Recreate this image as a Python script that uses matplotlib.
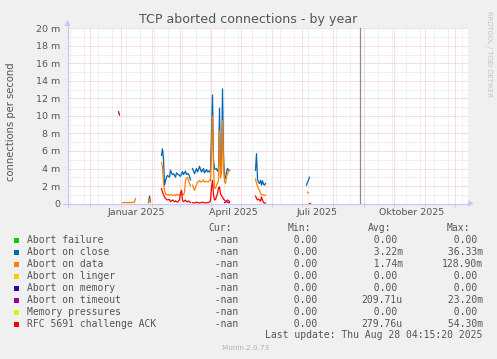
import matplotlib

matplotlib.use("Agg")
import matplotlib.dates as mdates
import matplotlib.pyplot as plt
import numpy as np
from matplotlib.lines import Line2D
from matplotlib.patches import Polygon, Rectangle

W, H = 497, 359

# values in milli connections per second, one value per day from the start date
timeout_a_start, timeout_a = "2024-12-30", [10.5, 10.1]
data_a_start, data_a = "2025-01-03", [0.1, 0.1, 0.1, 0.12, 0.1, 0.1, 0.1, 0.12,
                                      0.1, 0.1, 0.15, 0.1, 0.2, 0.55]
close_b_start, close_b = "2025-01-29", [0.1, 0.85, 0.2]
data_b_start, data_b = "2025-01-29", [0.1, 0.55, 0.15]

main_start = "2025-02-11"
close_main = [5.5, 6.25, 5.1, 2.1, 2.6, 3.0, 3.2, 3.1, 3.0, 3.8, 3.5, 3.3, 3.4,
              3.2, 3.0, 3.5, 3.4, 3.3, 3.2, 3.1, 3.4, 3.65, 3.3, 3.5, 3.7, 3.3,
              3.4, 3.4, 3.1, 2.7, np.nan, 4.0, 3.7, 3.4, 3.7, 4.0, 3.6, 3.9,
              4.25, 3.9, 3.6, 3.8, 4.0, 3.5, 3.7, 3.9, 3.6, 3.7, 3.6, 3.9, 8.0,
              12.4, 5.0, 4.0, 3.9, 4.0, 3.7, 3.8, 10.9, 4.1, 4.0, 13.1, 5.5,
              3.0, 2.85, 3.6, 4.0, 3.8, 3.8]
data_main = [4.7, 4.2, 2.3, 1.5, 1.1, 1.0, 1.0, 1.0, 0.95, 1.0, 1.0, 0.95,
             0.95, 1.0, 0.9, 1.05, 1.0, 0.95, 1.0, 1.0, 1.15, 1.0, 1.0, 1.3,
             2.6, 2.9, 3.0, 2.6, 2.3, 2.0, np.nan, 2.1, 1.8, 1.5, 1.9, 2.1,
             2.45, 2.5, 2.65, 2.5, 2.45, 2.6, 2.7, 2.45, 2.5, 2.55, 2.45, 2.5,
             2.65, 2.6, 6.0, 10.0, 4.0, 1.8, 1.7, 2.1, 2.3, 2.6, 8.3, 2.9, 3.5,
             9.5, 4.5, 2.5, 2.3, 3.1, 3.4, 3.6, 3.8]
rfc_main = [1.7, 1.3, 1.0, 0.75, 0.55, 0.5, 0.4, 0.45, 0.45, 0.2, 0.3, 0.4,
            0.3, 0.2, 0.3, 0.2, 0.15, 0.3, 0.4, 1.2, 1.5, 0.4, 0.2, 0.3, 0.4,
            0.2, 0.2, 0.3, 0.2, 0.1, np.nan, 0.1, 0.1, 0.05, 0.1, 0.15, 0.1,
            0.1, 0.05, 0.1, 0.1, 0.15, 0.1, 0.1, 0.05, 0.1, 0.1, 0.1, 0.15,
            0.3, 1.8, 2.65, 1.0, 0.4, 0.45, 0.8, 1.1, 1.8, 1.9, 1.1, 0.9, 0.75,
            0.5, 0.4, 0.25, 0.3, 0.4, 0.3, 0.25]
timeout_b_start, timeout_b = "2025-04-15", [0.1, 0.15, 0.2, 0.15, 0.1, 0.1]

may_start = "2025-05-16"
close_may = [3.8, 5.7, 2.8, 2.4, 2.3, 2.65, 2.1, 2.6, 2.2, 2.1, 2.3]
data_may = [2.8, 2.3, 2.0, 1.7, 1.5, 1.15, 1.0, 1.0, 0.95, 0.95, 0.95]
rfc_may = [0.85, 0.6, 0.4, 0.5, 0.4, 0.25, 0.75, 0.4, 0.1, 0.05, 0.05]

close_jul_start, close_jul = "2025-07-06", [2.1, 2.4, 2.7, 3.0]
data_jul_start, data_jul = "2025-07-07", [1.3, 1.2]
rfc_jul_start, rfc_jul = "2025-07-08", [0.1, 0.1]

last_update = "2025-08-28"
x_start, x_days = "2024-11-09", 400

labels = ["Abort failure", "Abort on close", "Abort on data", "Abort on linger",
          "Abort on memory", "Abort on timeout", "Memory pressures",
          "RFC 5691 challenge ACK"]
colors = ["#00CC00", "#0066B3", "#FF8000", "#FFCC00", "#330099", "#990099",
          "#CCFF00", "#FF0000"]
cur_vals = ["-nan"] * 8
min_vals = ["0.00"] * 8
avg_vals = ["0.00", "3.22m", "1.74m", "0.00", "0.00", "209.71u", "0.00", "279.76u"]
max_vals = ["0.00", "36.33m", "128.90m", "0.00", "0.00", "23.20m", "0.00", "54.30m"]

y_ticks = list(range(0, 21, 2))
y_labels = ["0"] + [f"{v} m" for v in y_ticks[1:]]
x_label_dates = ["2025-01-17", "2025-04-24", "2025-07-17", "2025-10-19"]
x_label_text = ["Januar 2025", "April 2025", "Juli 2025", "Oktober 2025"]


def days(start, vals):
    return np.datetime64(start) + np.arange(len(vals)).astype("timedelta64[D]")


def fx(x):
    return x / W


def fy(y):
    return 1 - y / H


fig = plt.figure(figsize=(W / 100, H / 100), dpi=100, facecolor="#F0F0F0")
ax = fig.add_axes([fx(67.5), fy(203.5), 400 / W, 175 / H])
ax.set_facecolor("white")
for s in ax.spines.values():
    s.set_visible(False)

x0 = np.datetime64(x_start)
x1 = x0 + np.timedelta64(x_days, "D")
ax.set_xlim(x0, x1)
ax.set_ylim(0, 20)

# grid: minor every 1 m / two weeks, major every 2 m / month
dot = (0, (1, 1))
minor_c, major_c = "#E2E2E2", "#F2BDBD"
for v in range(1, 20, 2):
    ax.axhline(v, color=minor_c, lw=0.72, ls=dot, zorder=1)
for d in np.arange(np.datetime64("2024-11-11"), x1, np.timedelta64(14, "D")):
    ax.axvline(d, color=minor_c, lw=0.72, ls=dot, zorder=1)
for v in range(2, 21, 2):
    ax.axhline(v, color=major_c, lw=0.72, ls=dot, zorder=2)
months = np.arange(np.datetime64("2024-12"), np.datetime64("2026-01"),
                   np.timedelta64(1, "M")).astype("datetime64[D]")
for d in months:
    ax.axvline(d, color=major_c, lw=0.72, ls=dot, zorder=2)
ax.axvline(np.datetime64(last_update), color="#8C8C8C", lw=0.9, zorder=3)

series = [
    (1, close_b_start, close_b), (1, main_start, close_main), (1, may_start, close_may),
    (1, close_jul_start, close_jul),
    (2, data_a_start, data_a), (2, data_b_start, data_b), (2, main_start, data_main),
    (2, may_start, data_may), (2, data_jul_start, data_jul),
    (5, timeout_a_start, timeout_a), (5, timeout_b_start, timeout_b),
    (7, main_start, rfc_main), (7, may_start, rfc_may), (7, rfc_jul_start, rfc_jul),
]
for idx, start, vals in series:
    ax.plot(days(start, vals), vals, color=colors[idx], lw=0.9, zorder=4)

ax.set_yticks(y_ticks)
ax.set_yticklabels(y_labels)
ax.set_xticks([np.datetime64(d) for d in x_label_dates])
ax.set_xticklabels(x_label_text)
ax.xaxis.set_minor_locator(mdates.MonthLocator())
ax.tick_params(axis="both", length=0, labelsize=6.8, labelcolor="#555555")
ax.tick_params(axis="y", pad=5.2)
ax.tick_params(axis="x", pad=3.2)
ax.tick_params(axis="x", which="minor", length=2, color="#C8C8C8", direction="out")

# axes with arrows
axc = "#C8C8F4"
fig.add_artist(Line2D([fx(63), fx(469)], [fy(203.5), fy(203.5)], color=axc, lw=0.9))
fig.add_artist(Line2D([fx(67.5), fx(67.5)], [fy(207), fy(24)], color=axc, lw=0.9))
fig.add_artist(Polygon([[fx(468), fy(200.5)], [fx(474), fy(203.5)], [fx(468), fy(206.5)]],
                       closed=True, color=axc, lw=0))
fig.add_artist(Polygon([[fx(64.5), fy(26)], [fx(67.5), fy(20)], [fx(70.5), fy(26)]],
                       closed=True, color=axc, lw=0))

fig.text(fx(248.5), fy(19.5), "TCP aborted connections - by year", ha="center",
         va="center", size=9.1, color="#555555")
fig.text(fx(11), fy(122), "connections per second", rotation=90, ha="center",
         va="center", size=7.2, color="#555555")
fig.text(fx(489), fy(54), "RRDTOOL / TOBI OETIKER", rotation=270, ha="center",
         va="center", size=4.9, color="#C4C4C4")

mono = dict(family="DejaVu Sans Mono", size=7, color="#555555", va="center", ha="left")
for x, t in [(208, "Cur:"), (288, "Min:"), (368, "Avg:"), (447, "Max:")]:
    fig.text(fx(x), fy(227.7), t, **mono)


def fmt(s):
    if s[-1] in "mu":
        return f"{s[:-1]:>6}{s[-1]}"
    return f"{s:>6} "


for i, lab in enumerate(labels):
    y = 240 + 12 * i
    fig.add_artist(Rectangle((fx(14), fy(y + 2.5)), 5 / W, 5 / H, color=colors[i], lw=0))
    fig.text(fx(26.7), fy(y), lab, **mono)
    fig.text(fx(203.3), fy(y), fmt(cur_vals[i]), **mono)
    fig.text(fx(281.7), fy(y), fmt(min_vals[i]), **mono)
    fig.text(fx(361.7), fy(y), fmt(avg_vals[i]), **mono)
    fig.text(fx(441.7), fy(y), fmt(max_vals[i]), **mono)

fig.text(fx(482), fy(335.5), "Last update: Thu Aug 28 04:15:20 2025",
         **{**mono, "ha": "right"})
fig.text(fx(246), fy(348), "Munin 2.0.73", ha="center", va="center", size=5.2,
         color="#B4B4B4")

fig.savefig("out.png", dpi=100, facecolor=fig.get_facecolor())
